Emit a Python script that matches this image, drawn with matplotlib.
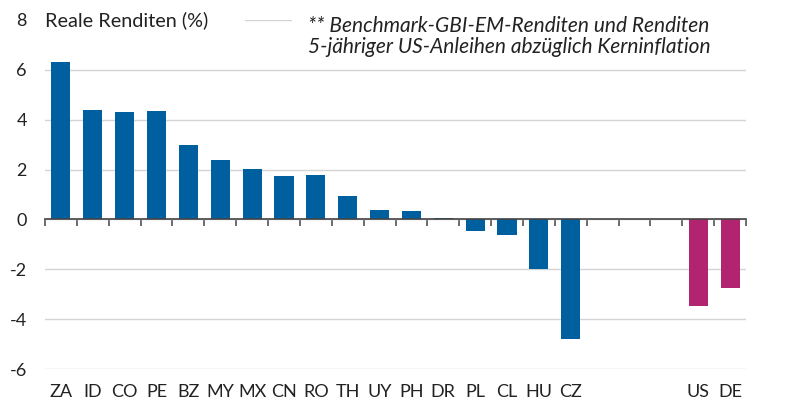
import numpy as np
import matplotlib.pyplot as plt
from matplotlib.transforms import blended_transform_factory

# Daten
laender = ['ZA', 'ID', 'CO', 'PE', 'BZ', 'MY', 'MX', 'CN', 'RO', 'TH', 'UY',
           'PH', 'DR', 'PL', 'CL', 'HU', 'CZ', '', '', '', 'US', 'DE']
renditen = [6.33, 4.40, 4.30, 4.33, 2.98, 2.37, 2.02, 1.76, 1.79, 0.95, 0.36,
            0.35, 0.05, -0.47, -0.63, -1.99, -4.79, np.nan, np.nan, np.nan, -3.48, -2.74]
gruppe = ['EM'] * 17 + ['leer'] * 3 + ['DM'] * 2
farben = {'EM': '#005f9f', 'DM': '#b1246f', 'leer': 'white'}

y_ticks = [-6, -4, -2, 0, 2, 4, 6, 8]

plt.rcParams['font.family'] = ['Lato', 'DejaVu Sans']
text_farbe = '#222222'

fig = plt.figure(figsize=(8.09, 4.18), dpi=100)
ax = fig.add_axes([45 / 809, 1 - 369 / 418, (746 - 45) / 809, (369 - 20) / 418])

x = np.arange(len(laender))
ax.bar(x, renditen, width=0.6, color=[farben[g] for g in gruppe], zorder=3)

ax.set_xlim(-0.5, len(laender) - 0.5)
ax.set_ylim(-6, 8)
ax.set_yticks(y_ticks)
ax.set_yticklabels([str(v) for v in y_ticks])
ax.tick_params(axis='y', length=0, pad=13, labelsize=13, labelcolor=text_farbe)
ax.grid(axis='y', color='#d4d4d4', linewidth=1, zorder=0)

for s in ['top', 'right', 'left']:
    ax.spines[s].set_visible(False)
ax.spines['bottom'].set_position(('data', 0))
ax.spines['bottom'].set_color('#444444')
ax.spines['bottom'].set_linewidth(1.2)
ax.spines['bottom'].set_zorder(4)

ax.set_xticks([])
ax.set_xticks(np.arange(len(laender) + 1) - 0.5, minor=True)
ax.tick_params(axis='x', which='minor', length=5, width=1.1, color='#444444', direction='out')

trans = blended_transform_factory(ax.transData, ax.transAxes)
for xi, name in zip(x, laender):
    ax.text(xi, -0.065, name, transform=trans, ha='center', va='center',
            fontsize=13, color=text_farbe)

ax.text(0, 1.0, 'Reale Renditen (%)', transform=ax.transAxes, ha='left', va='center',
        fontsize=14.3, color=text_farbe, zorder=5)
ax.add_patch(plt.Rectangle((0, 0.985), 0.285, 0.03, transform=ax.transAxes,
                           facecolor='white', edgecolor='none', zorder=4, clip_on=False))
ax.add_patch(plt.Rectangle((0.353, 0.985), 0.65, 0.03, transform=ax.transAxes,
                           facecolor='white', edgecolor='none', zorder=4, clip_on=False))
fig.text(308 / 809, 1 - 16 / 418,
         '** Benchmark-GBI-EM-Renditen und Renditen\n5-jähriger US-Anleihen abzüglich Kerninflation',
         ha='left', va='top', fontsize=15, style='italic', color=text_farbe,
         linespacing=1.05, zorder=6)

plt.savefig('out.png', dpi=100)
